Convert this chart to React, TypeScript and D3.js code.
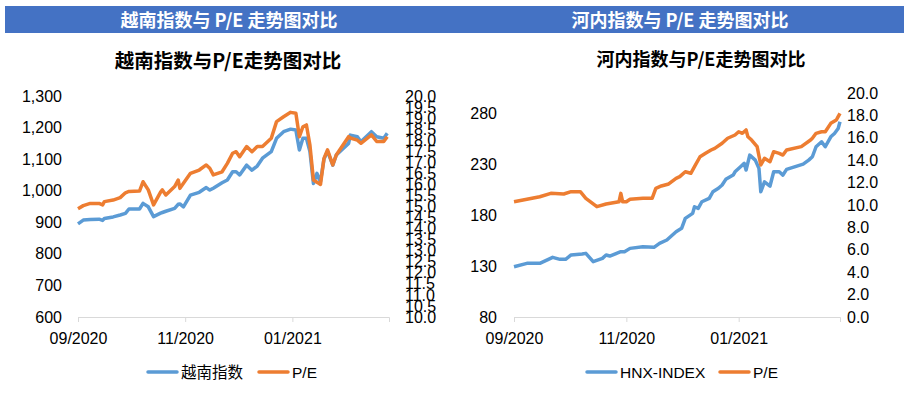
import React, { useRef, useEffect } from 'react';
import * as d3 from 'd3';

// ---- 越南指数 (VN-INDEX) panel ----
const vnDates = [
  '2020-09-01', '2020-09-04', '2020-09-08', '2020-09-13', '2020-09-15', '2020-09-16', '2020-09-21',
  '2020-09-25', '2020-09-28', '2020-09-30', '2020-10-06', '2020-10-08', '2020-10-11', '2020-10-14',
  '2020-10-18', '2020-10-19', '2020-10-21', '2020-10-26', '2020-10-28', '2020-10-29', '2020-10-31',
  '2020-11-04', '2020-11-09', '2020-11-13', '2020-11-15', '2020-11-17', '2020-11-22', '2020-11-25',
  '2020-11-28', '2020-11-30', '2020-12-02', '2020-12-06', '2020-12-09', '2020-12-12', '2020-12-15',
  '2020-12-20', '2020-12-23', '2020-12-27', '2020-12-31', '2021-01-03', '2021-01-05', '2021-01-07',
  '2021-01-09', '2021-01-11', '2021-01-13', '2021-01-15', '2021-01-16', '2021-01-17', '2021-01-19',
  '2021-01-21', '2021-01-24', '2021-01-26', '2021-02-02', '2021-02-03', '2021-02-07', '2021-02-09',
  '2021-02-15', '2021-02-18', '2021-02-22', '2021-02-24'
];
const vnIndex = [
  895, 907, 909, 910, 906, 912, 917,
  923, 928, 942, 942, 960, 949, 918,
  929, 931, 935, 944, 957, 958, 949,
  986, 995, 1010, 1002, 1008, 1025, 1034,
  1060, 1060, 1050, 1081, 1065, 1078, 1103,
  1124, 1166, 1187, 1195, 1192, 1129, 1166,
  1166, 1124, 1023, 1055, 1040, 1029, 1100,
  1125, 1081, 1113, 1150, 1176, 1171, 1155,
  1187, 1171, 1166, 1182
];
const vnPE = [
  14.9, 15.04, 15.14, 15.14, 15.07, 15.22, 15.29,
  15.4, 15.62, 15.68, 15.7, 16.12, 15.75, 15.07,
  15.65, 15.75, 15.52, 15.9, 16.2, 15.82, 16.05,
  16.5, 16.65, 16.88, 16.73, 16.43, 16.57, 16.95,
  17.41, 17.48, 17.25, 17.71, 17.48, 17.71, 17.71,
  18.09, 18.84, 19.06, 19.26, 19.22, 18.16, 18.61,
  18.69, 17.78, 16.2, 16.1, 16.05, 16.0, 17.18,
  17.56, 16.88, 17.33, 18.16, 18.1, 18.0, 17.86,
  18.24, 17.94, 17.94, 18.16
];

// ---- 河内指数 (HNX-INDEX) panel ----
const hnxDates = [
  '2020-09-01', '2020-09-08', '2020-09-15', '2020-09-22', '2020-09-26', '2020-09-29', '2020-10-02',
  '2020-10-08', '2020-10-10', '2020-10-14', '2020-10-19', '2020-10-21', '2020-10-23', '2020-10-29',
  '2020-10-31', '2020-11-03', '2020-11-10', '2020-11-16', '2020-11-19', '2020-11-23', '2020-11-28',
  '2020-12-01', '2020-12-03', '2020-12-07', '2020-12-08', '2020-12-10', '2020-12-12', '2020-12-16',
  '2020-12-18', '2020-12-21', '2020-12-23', '2020-12-25', '2020-12-29', '2020-12-30', '2021-01-02',
  '2021-01-04', '2021-01-05', '2021-01-07', '2021-01-10', '2021-01-12', '2021-01-13', '2021-01-15',
  '2021-01-18', '2021-01-20', '2021-01-23', '2021-01-25', '2021-01-27', '2021-02-05', '2021-02-08',
  '2021-02-10', '2021-02-12', '2021-02-15', '2021-02-17', '2021-02-20', '2021-02-22', '2021-02-24',
  '2021-02-25'
];
const hnxIndex = [
  129.4, 132.7, 132.7, 138.6, 136.6, 136.6, 140.9,
  141.8, 142.5, 134.3, 137.6, 140.9, 139.9, 144.1,
  144.1, 147.4, 149, 148.4, 152.3, 155.6, 163.7,
  167.1, 176.9, 181.8, 188.3, 186.7, 193.2, 196.5,
  203, 206.4, 209.6, 215.2, 219.4, 222.6, 227.5,
  230.9, 224.3, 239, 234.1, 226, 203, 212.8,
  208.6, 222.6, 222.6, 219.4, 225, 230.2, 234.1,
  237.4, 247.2, 252.1, 247.2, 257, 260.3, 265.2,
  271.7
];
const hnxPeDates = [
  '2020-09-01', '2020-09-08', '2020-09-15', '2020-09-21', '2020-09-28', '2020-10-02', '2020-10-07',
  '2020-10-10', '2020-10-16', '2020-10-21', '2020-10-28', '2020-10-29', '2020-10-30', '2020-11-01',
  '2020-11-03', '2020-11-10', '2020-11-15', '2020-11-17', '2020-11-20', '2020-11-24', '2020-11-28',
  '2020-11-30', '2020-12-03', '2020-12-06', '2020-12-08', '2020-12-11', '2020-12-14', '2020-12-17',
  '2020-12-19', '2020-12-23', '2020-12-26', '2020-12-30', '2021-01-01', '2021-01-03', '2021-01-05',
  '2021-01-06', '2021-01-08', '2021-01-11', '2021-01-13', '2021-01-15', '2021-01-18', '2021-01-20',
  '2021-01-23', '2021-01-25', '2021-01-27', '2021-02-04', '2021-02-09', '2021-02-10', '2021-02-12',
  '2021-02-15', '2021-02-17', '2021-02-20', '2021-02-23', '2021-02-24', '2021-02-25'
];
const hnxPE = [
  10.29, 10.51, 10.74, 11.04, 10.98, 11.19, 11.19,
  10.6, 9.85, 10.09, 10.29, 11.04, 10.29, 10.29,
  10.51, 10.6, 10.6, 11.49, 11.7, 11.88, 12.38,
  12.53, 12.97, 12.83, 13.42, 14.31, 14.62, 14.91,
  15.06, 15.51, 15.96, 16.25, 16.54, 16.4, 16.7,
  16.1, 15.8, 15.21, 13.57, 14.17, 13.87, 14.76,
  14.61, 14.46, 14.91, 15.21, 15.8, 15.96, 16.4,
  16.54, 16.54, 17.29, 17.59, 17.89, 18.18
];

const xTicks = ['2020-09-01', '2020-11-01', '2021-01-01'];
const vnLeftTicks = [600, 700, 800, 900, 1000, 1100, 1200, 1300];
const vnRightTicks = d3.range(10, 20.01, 0.5);
const hnxLeftTicks = [80, 130, 180, 230, 280];
const hnxRightTicks = [0, 2, 4, 6, 8, 10, 12, 14, 16, 18, 20];

const BLUE = '#5B9BD5';
const ORANGE = '#ED7D31';
const GRID = '#d9d9d9';
const TICK_FONT = '"Liberation Sans", Arial, sans-serif';
const CJK_FONT = '"Noto Sans CJK SC", "Liberation Sans", sans-serif';

const parse = d3.timeParse('%Y-%m-%d');

function drawPanel(svg, p) {
  const x = d3.scaleTime()
    .domain([parse('2020-09-01'), parse('2021-02-25')])
    .range([p.left, p.right]);
  const yL = d3.scaleLinear().domain(p.leftDomain).range([p.bottom, p.top]);
  const yR = d3.scaleLinear().domain(p.rightDomain).range([p.bottom, p.top]);

  const g = svg.append('g');

  // chart title
  g.append('text')
    .attr('x', p.titleX)
    .attr('y', p.titleY)
    .attr('text-anchor', 'middle')
    .attr('font-family', CJK_FONT)
    .attr('font-weight', 'bold')
    .attr('font-size', p.titleSize)
    .text(p.title);

  // x axis
  const xAxis = g.append('g')
    .attr('transform', `translate(0,${p.bottom})`)
    .call(d3.axisBottom(x)
      .tickValues(xTicks.map(parse))
      .tickFormat(d3.timeFormat('%m/%Y'))
      .tickSizeOuter(0)
      .tickSize(5)
      .tickPadding(11));
  xAxis.select('.domain').attr('stroke', GRID);
  xAxis.selectAll('.tick line').attr('stroke', GRID);
  xAxis.selectAll('text')
    .attr('font-family', TICK_FONT)
    .attr('font-size', 16)
    .attr('fill', '#000');

  // left axis
  const left = g.append('g')
    .attr('transform', `translate(${p.left},0)`)
    .call(d3.axisLeft(yL).tickValues(p.leftTicks).tickFormat(p.leftFormat).tickSize(0).tickPadding(p.leftPad));
  left.select('.domain').remove();
  left.selectAll('text').attr('font-family', TICK_FONT).attr('font-size', 16).attr('fill', '#000');

  // right axis
  const right = g.append('g')
    .attr('transform', `translate(${p.right},0)`)
    .call(d3.axisRight(yR).tickValues(p.rightTicks).tickFormat(d3.format('.1f')).tickSize(0).tickPadding(p.rightPad));
  right.select('.domain').remove();
  right.selectAll('text').attr('font-family', TICK_FONT).attr('font-size', 16).attr('fill', '#000');

  // lines
  const idxLine = d3.line()
    .x((d, i) => x(parse(p.idxDates[i])))
    .y(d => yL(d));
  const peLine = d3.line()
    .x((d, i) => x(parse(p.peDates[i])))
    .y(d => yR(d));

  g.append('path')
    .datum(p.idx)
    .attr('d', idxLine)
    .attr('fill', 'none')
    .attr('stroke', BLUE)
    .attr('stroke-width', 3.5)
    .attr('stroke-linejoin', 'round');
  g.append('path')
    .datum(p.pe)
    .attr('d', peLine)
    .attr('fill', 'none')
    .attr('stroke', ORANGE)
    .attr('stroke-width', 3.5)
    .attr('stroke-linejoin', 'round');

  // legend
  const legend = [
    { label: p.idxName, color: BLUE, x: p.legendX[0] },
    { label: 'P/E', color: ORANGE, x: p.legendX[1] },
  ];
  legend.forEach(item => {
    g.append('line')
      .attr('x1', item.x)
      .attr('x2', item.x + 29)
      .attr('y1', 372)
      .attr('y2', 372)
      .attr('stroke', item.color)
      .attr('stroke-width', 3.5)
      .attr('stroke-linecap', 'round');
    g.append('text')
      .attr('x', item.x + 33)
      .attr('y', 378)
      .attr('font-family', TICK_FONT + ', "Noto Sans CJK SC"')
      .attr('font-size', 15.5)
      .text(item.label);
  });
}

const App = () => {
  const svgRef = useRef(null);

  useEffect(() => {
    const svg = d3.select(svgRef.current);
    svg.selectAll('*').remove();

    // header band
    svg.append('rect')
      .attr('x', 5).attr('y', 6)
      .attr('width', 899).attr('height', 27)
      .attr('fill', '#4472C4');
    [['越南指数与 P/E 走势图对比', 229], ['河内指数与 P/E 走势图对比', 680]].forEach(([t, cx]) => {
      svg.append('text')
        .attr('x', cx)
        .attr('y', 26.5)
        .attr('text-anchor', 'middle')
        .attr('font-family', CJK_FONT)
        .attr('font-weight', 'bold')
        .attr('font-size', 18)
        .attr('fill', '#fff')
        .text(t);
    });

    drawPanel(svg, {
      title: '越南指数与P/E走势图对比', titleX: 228, titleY: 68, titleSize: 19.5,
      left: 78, right: 389, top: 96, bottom: 317,
      leftDomain: [600, 1300], rightDomain: [10, 20],
      leftTicks: vnLeftTicks, rightTicks: vnRightTicks,
      leftFormat: d3.format(','), leftPad: 16, rightPad: 16,
      idxDates: vnDates, idx: vnIndex, peDates: vnDates, pe: vnPE,
      idxName: '越南指数', legendX: [148, 259],
    });

    drawPanel(svg, {
      title: '河内指数与P/E走势图对比', titleX: 701, titleY: 66, titleSize: 18,
      left: 514, right: 840, top: 93, bottom: 317,
      leftDomain: [80, 300], rightDomain: [0, 20],
      leftTicks: hnxLeftTicks, rightTicks: hnxRightTicks,
      leftFormat: d3.format('d'), leftPad: 17, rightPad: 7,
      idxDates: hnxDates, idx: hnxIndex, peDates: hnxPeDates, pe: hnxPE,
      idxName: 'HNX-INDEX', legendX: [587, 720],
    });
  }, []);

  return (
    <svg
      ref={svgRef}
      width={908}
      height={396}
      style={{ position: 'absolute', left: 0, top: 0, background: '#fff' }}
    />
  );
};

export default App;
